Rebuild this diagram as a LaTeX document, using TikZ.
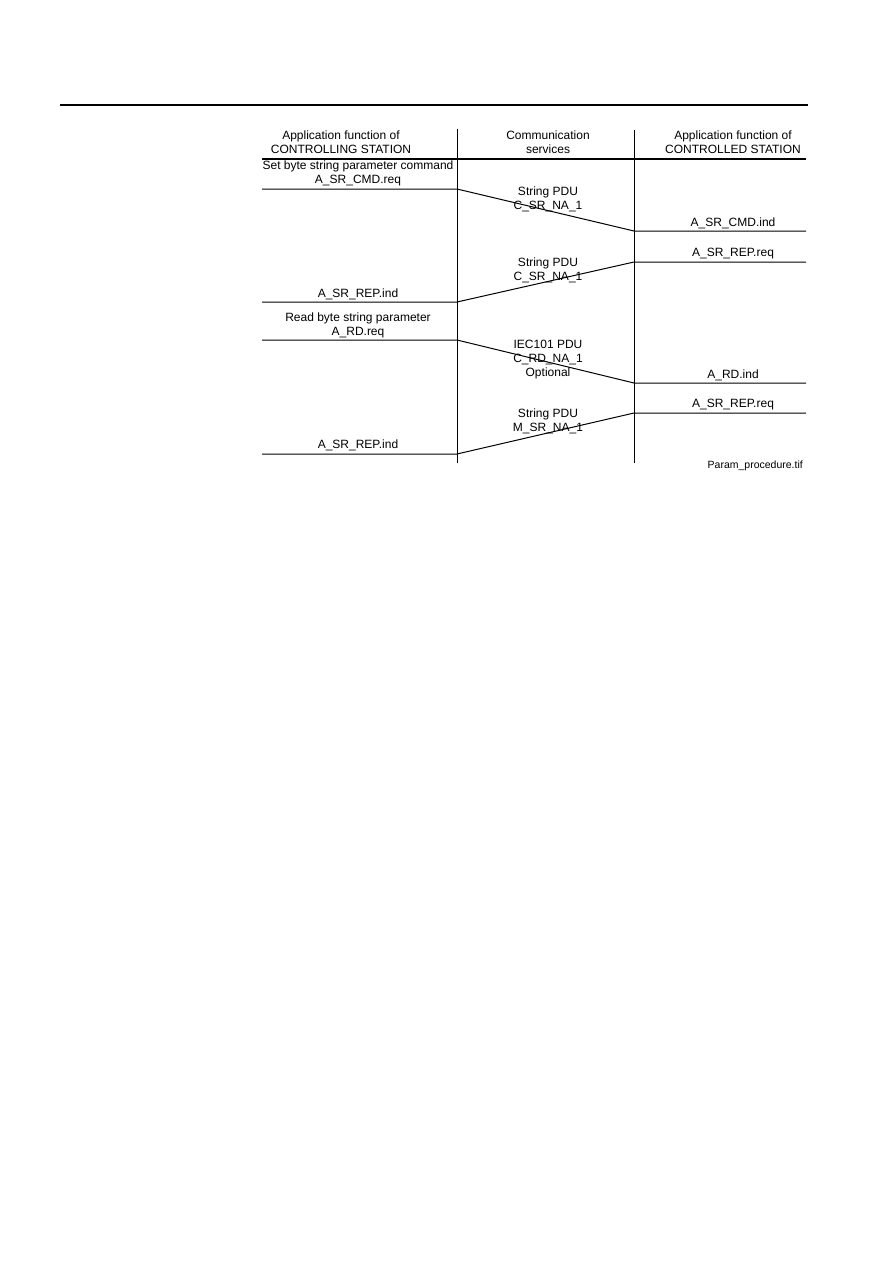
\documentclass[tikz,border=0pt]{standalone}
\usepackage{fontspec}
\setmainfont{Liberation Sans}
\begin{document}
\begin{tikzpicture}[x=1pt,y=-1pt,
  lbl/.style={inner sep=0pt, align=center, font=\fontsize{12}{14}\selectfont},
  thin/.style={line width=1pt},
  head/.style={line width=2pt},
  rule/.style={line width=1.4pt}]
\useasboundingbox (0,0) rectangle (893,1263);
% top rule
\coordinate (r1) at (60,105);
\coordinate (r2) at (808,105);
\draw[rule] (r1) -- (r2);
% columns
\coordinate (v1t) at (457,129);
\coordinate (v1b) at (457,463);
\coordinate (v2t) at (634,130);
\coordinate (v2b) at (634,463);
\draw[thin] (v1t) -- (v1b);
\draw[thin] (v2t) -- (v2b);
% header line
\coordinate (h1) at (262,159);
\coordinate (h2) at (806,159);
\draw[head] (h1) -- (h2);
% headers
\node[lbl] (hl) at (341,142) {Application function of\\CONTROLLING STATION};
\node[lbl] (hm) at (548,142) {Communication\\services};
\node[lbl] (hr) at (733,142) {Application function of\\CONTROLLED STATION};
% sequence 1
\coordinate (a1) at (262,189); \coordinate (a2) at (457,189);
\coordinate (b1) at (634,231); \coordinate (b2) at (806,231);
\coordinate (c1) at (634,262); \coordinate (c2) at (806,262);
\coordinate (d1) at (262,302); \coordinate (d2) at (457,302);
\coordinate (e1) at (262,340); \coordinate (e2) at (457,340);
\coordinate (f1) at (634,383); \coordinate (f2) at (806,383);
\coordinate (g1) at (634,413); \coordinate (g2) at (806,413);
\coordinate (k1) at (262,454); \coordinate (k2) at (457,454);
\draw[thin] (a1) -- (a2) -- (b1) -- (b2);
\draw[thin] (c2) -- (c1) -- (d2) -- (d1);
\draw[thin] (e1) -- (e2) -- (f1) -- (f2);
\draw[thin] (g2) -- (g1) -- (k2) -- (k1);
% labels
\node[lbl] (t1) at (358,173) {Set byte string parameter command\\A\_SR\_CMD.req};
\node[lbl] (t2) at (548,199) {String PDU\\C\_SR\_NA\_1};
\node[lbl] (t3) at (733,223) {A\_SR\_CMD.ind};
\node[lbl] (t4) at (733,254) {A\_SR\_REP.req};
\node[lbl] (t5) at (548,270) {String PDU\\C\_SR\_NA\_1};
\node[lbl] (t6) at (358,294) {A\_SR\_REP.ind};
\node[lbl] (t7) at (358,325) {Read byte string parameter\\A\_RD.req};
\node[lbl] (t8) at (548,360) {IEC101 PDU\\C\_RD\_NA\_1\\Optional};
\node[lbl] (t9) at (733,375) {A\_RD.ind};
\node[lbl] (t10) at (733,405) {A\_SR\_REP.req};
\node[lbl] (t11) at (548,421) {String PDU\\M\_SR\_NA\_1};
\node[lbl] (t12) at (358,445) {A\_SR\_REP.ind};
\node[inner sep=0pt, anchor=east, font=\fontsize{10.5}{12}\selectfont] (fn) at (803,466) {Param\_procedure.tif};
\end{tikzpicture}
\end{document}
